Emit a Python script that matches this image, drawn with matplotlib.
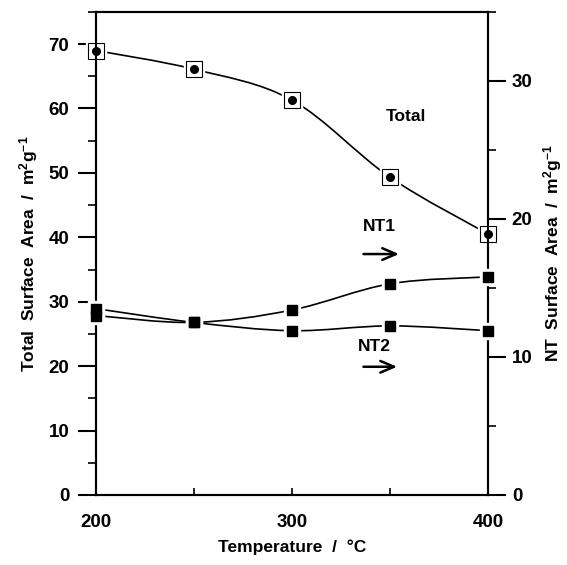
import matplotlib.pyplot as plt
from matplotlib.path import Path
from matplotlib.patches import PathPatch
from matplotlib.ticker import MultipleLocator

plt.rcParams['font.family'] = ['Liberation Sans', 'DejaVu Sans']
plt.rcParams['mathtext.fontset'] = 'custom'
plt.rcParams['mathtext.rm'] = 'Liberation Sans:bold'
plt.rcParams['mathtext.it'] = 'Liberation Sans:bold'
plt.rcParams['mathtext.bf'] = 'Liberation Sans:bold'

temps = [200, 250, 300, 350, 400]
total_area = [69.0, 66.1, 61.3, 49.3, 40.5]
nt1_area = [13.0, 12.5, 13.4, 15.3, 15.8]
nt2_area = [13.5, 12.5, 11.9, 12.25, 11.9]


def smooth_path(xs, ys):
    # catmull-rom segments written as cubic bezier pieces
    verts = [(xs[0], ys[0])]
    codes = [Path.MOVETO]
    n = len(xs)
    for i in range(n - 1):
        x0, y0 = (xs[i - 1], ys[i - 1]) if i > 0 else (xs[i], ys[i])
        x1, y1 = xs[i], ys[i]
        x2, y2 = xs[i + 1], ys[i + 1]
        x3, y3 = (xs[i + 2], ys[i + 2]) if i + 2 < n else (x2, y2)
        c1 = (x1 + (x2 - x0) / 6.0, y1 + (y2 - y0) / 6.0)
        c2 = (x2 - (x3 - x1) / 6.0, y2 - (y3 - y1) / 6.0)
        verts += [c1, c2, (x2, y2)]
        codes += [Path.CURVE4] * 3
    return Path(verts, codes)


fig = plt.figure(figsize=(5.67, 5.65), dpi=100)
ax = fig.add_axes([0.169, 0.124, 0.692, 0.855])
ax2 = ax.twinx()

ax.set_xlim(200, 400)
ax.set_ylim(0, 75)
ax2.set_ylim(0, 35)

# total surface area
ax.add_patch(PathPatch(smooth_path(temps, total_area), fill=False, lw=1.2, color='black'))
ax.plot(temps, total_area, 's', ms=14, mfc='white', mec='white', zorder=3, clip_on=False)
ax.plot(temps, total_area, 's', ms=11, mfc='white', mec='black', mew=0.8, zorder=4, clip_on=False)
ax.plot(temps, total_area, 'o', ms=5.5, color='black', zorder=5, clip_on=False)

# NT surface areas
for vals in (nt1_area, nt2_area):
    ax2.add_patch(PathPatch(smooth_path(temps, vals), fill=False, lw=1.2, color='black'))
    ax2.plot(temps, vals, 's', ms=11, mfc='white', mec='white', zorder=3, clip_on=False)
    ax2.plot(temps, vals, 's', ms=7.5, color='black', zorder=4, clip_on=False)

tick_font = dict(fontsize=13.5, fontweight='bold')
lab_font = dict(fontsize=12.5, fontweight='bold')

ax.set_xticks([200, 300, 400])
ax.xaxis.set_minor_locator(MultipleLocator(50))
ax.set_xticklabels(['200', '300', '400'], **tick_font)
ax.tick_params(axis='x', which='major', direction='in', length=5, width=1.2, pad=14)
ax.tick_params(axis='x', which='minor', direction='in', length=5, width=1.2)
ax.tick_params(axis='x', top=False, which='both')

ax.set_yticks(range(0, 71, 10))
ax.yaxis.set_minor_locator(MultipleLocator(5))
ax.set_yticklabels([str(v) for v in range(0, 71, 10)], **tick_font)
ax.tick_params(axis='y', which='major', direction='out', length=13, width=1.5, pad=6)
ax.tick_params(axis='y', which='minor', direction='out', length=6, width=1.2)

ax2.set_yticks([0, 10, 20, 30])
ax2.yaxis.set_minor_locator(MultipleLocator(5))
ax2.set_yticklabels(['0', '10', '20', '30'], **tick_font)
ax2.tick_params(axis='y', which='major', direction='out', length=13, width=1.5, pad=4)
ax2.tick_params(axis='y', which='minor', direction='out', length=6, width=1.2)

for a in (ax, ax2):
    for s in a.spines.values():
        s.set_linewidth(1.5)

ax.set_xlabel('Temperature  /  \u00b0C', labelpad=6, **lab_font)
ax.set_ylabel('Total  Surface  Area  /  m$^2$g$^{-1}$', labelpad=6, **lab_font)
ax2.set_ylabel('NT  Surface  Area  /  m$^2$g$^{-1}$', labelpad=6, **lab_font)

ax.text(348, 58.8, 'Total', fontsize=12.5, fontweight='bold', va='center')
ax.text(336, 41.6, 'NT1', fontsize=12.5, fontweight='bold', va='center')
ax.text(333.5, 23.1, 'NT2', fontsize=12.5, fontweight='bold', va='center')
arrow = dict(arrowstyle='->,head_length=0.7,head_width=0.3', lw=1.8,
             color='black', mutation_scale=14)
ax.annotate('', xy=(356, 37.4), xytext=(335, 37.4), arrowprops=arrow)
ax.annotate('', xy=(355, 19.9), xytext=(335, 19.9), arrowprops=arrow)

fig.savefig('out.png', dpi=100)
